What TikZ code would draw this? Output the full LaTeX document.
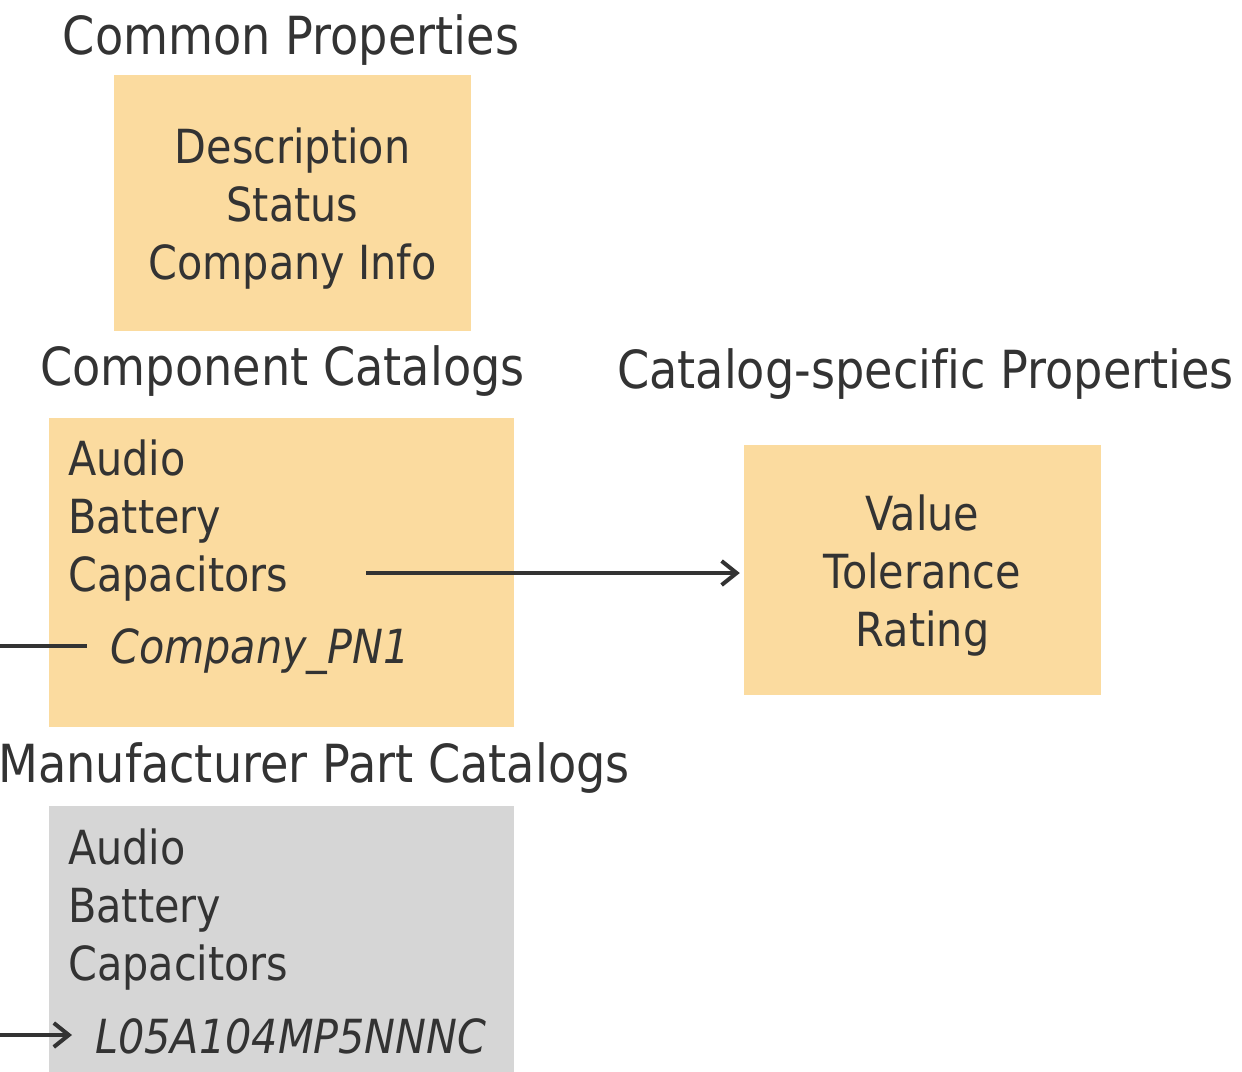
\documentclass[tikz,border=0pt]{standalone}
\usepackage{fontspec}
\setmainfont[FakeStretch=0.88,Ligatures=CommonOff]{DejaVu Sans}
\usetikzlibrary{arrows.meta}

\definecolor{ink}{HTML}{333333}
\definecolor{sand}{HTML}{FBDB9F}
\definecolor{stone}{HTML}{D6D6D6}

\tikzset{
  title/.style={text=ink, font=\fontsize{52.5}{60}\selectfont, inner sep=0pt, anchor=base},
  item/.style={text=ink, font=\fontsize{47}{58}\selectfont, inner sep=0pt, anchor=base west},
  mid/.style={item, anchor=base},
  catbox/.style={fill=sand, draw=none, inner sep=0pt},
  link/.style={draw=ink, line width=4pt},
  tip/.style={-{Straight Barb[length=15pt,width=24pt,line width=4pt]}}
}

\begin{document}
\begin{tikzpicture}[x=1pt,y=-1pt]
  \useasboundingbox (0,0) rectangle (1242,1071);
  \clip (0,0) rectangle (1242,1071);

  % common properties (top)
  \node[title] (commonT) at (291,54) {Common Properties};
  \node[catbox, minimum width=357pt, minimum height=256pt] (common) at (292.5,203) {};
  \node[mid] (desc) at (292.5,163) {Description};
  \node[mid] (status) at (292.5,221) {Status};
  \node[mid] (info) at (292.5,279) {Company Info};

  % component catalogs (middle left)
  \node[title] (compT) at (282.5,385) {Component Catalogs};
  \node[catbox, minimum width=465pt, minimum height=309pt] (comp) at (281.5,572.5) {};
  \node[item] (audioA) at (68,475) {Audio};
  \node[item] (batteryA) at (68,533) {Battery};
  \node[item] (capA) at (68,591) {Capacitors};
  \node[item] (pn) at (110,663) {\itshape Company\_PN1};

  % catalog-specific properties (right)
  \node[title] (specT) at (925.5,388) {Catalog-specific Properties};
  \node[catbox, minimum width=357pt, minimum height=250pt] (spec) at (922.5,570) {};
  \node[mid] (value) at (922.5,530) {Value};
  \node[mid] (tol) at (922.5,588) {Tolerance};
  \node[mid] (rating) at (922.5,646) {Rating};

  % manufacturer part catalogs (bottom)
  \node[title, anchor=base east] (mfrT) at (630,782) {Manufacturer Part Catalogs};
  \node[catbox, fill=stone, minimum width=465pt, minimum height=290pt] (mfr) at (281.5,951) {};
  \node[item] (audioB) at (68,864) {Audio};
  \node[item] (batteryB) at (68,922) {Battery};
  \node[item] (capB) at (68,980) {Capacitors};
  \node[item] (mpn) at (95,1053) {\itshape L05A104MP5NNNC};

  % connectors
  \coordinate (capEnd) at (366,573);
  \coordinate (leftA) at (0,646);
  \coordinate (leftB) at (0,1035);
  \draw[link, tip, shorten >=4pt] (capEnd) -- (spec.west |- capEnd);
  \draw[link] (leftA) -- (87,646);
  \draw[link, tip] (leftB) -- (72,1035);
\end{tikzpicture}
\end{document}
